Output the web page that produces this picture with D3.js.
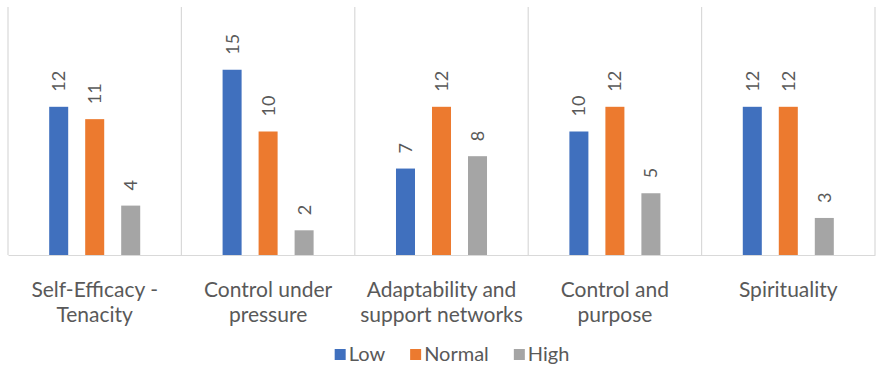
<!DOCTYPE html>
<html>
<head>
<meta charset="utf-8">
<script src="https://cdn.jsdelivr.net/npm/d3@7"></script>
<style>
  html, body { margin: 0; padding: 0; background: #fff; }
  svg { display: block; font-family: Lato, "Open Sans", sans-serif; }
</style>
</head>
<body>
<svg id="chart" width="877" height="367"></svg>
<script>
// Resilience dimensions and counts per level
const categories = [
  ["Self-Efficacy -", "Tenacity"],
  ["Control under", "pressure"],
  ["Adaptability and", "support networks"],
  ["Control and", "purpose"],
  ["Spirituality"]
];
const seriesNames = ["Low", "Normal", "High"];
const lowValues    = [12, 15, 7, 10, 12];
const normalValues = [11, 10, 12, 12, 12];
const highValues   = [4, 2, 8, 5, 3];
const seriesColors = ["#4070BE", "#EC7A2F", "#A5A5A5"];

const seriesValues = [lowValues, normalValues, highValues];
const catKeys = categories.map(c => c.join(" "));

const svg = d3.select("#chart");
const plot = { left: 8, right: 875, top: 8, bottom: 255 };

const x0 = d3.scaleBand().domain(catKeys).range([plot.left, plot.right]).padding(0);
const x1 = d3.scaleBand().domain(seriesNames).range([0, x0.bandwidth()])
  .paddingInner(0.472).paddingOuter(1.144);
const y = d3.scaleLinear().domain([0, 20]).range([plot.bottom, plot.top]);

const gridColor = "#D9D9D9";
const textColor = "#595959";

// vertical separators between categories
const bounds = catKeys.map(k => x0(k)).concat([plot.right]);
svg.append("g").selectAll("line").data(bounds).join("line")
  .attr("x1", d => d).attr("x2", d => d)
  .attr("y1", plot.top - 1).attr("y2", plot.bottom)
  .attr("stroke", gridColor).attr("stroke-width", 1.2);

// category axis
const xAxis = d3.axisBottom(x0).tickSize(0).tickFormat("");
const axisG = svg.append("g").attr("transform", `translate(0,${plot.bottom})`).call(xAxis);
axisG.select(".domain").attr("stroke", gridColor).attr("stroke-width", 1.2);

// bars with rotated value labels
const groups = svg.append("g").selectAll("g").data(catKeys).join("g")
  .attr("transform", k => `translate(${x0(k)},0)`);

groups.each(function(k, ci) {
  const g = d3.select(this);
  seriesNames.forEach((s, si) => {
    const v = seriesValues[si][ci];
    const bx = x1(s), bw = x1.bandwidth();
    g.append("rect")
      .attr("x", bx).attr("width", bw)
      .attr("y", y(v)).attr("height", y(0) - y(v))
      .attr("fill", seriesColors[si]);
    const cx = bx + bw / 2, ty = y(v) - 15;
    g.append("text")
      .attr("transform", `translate(${cx},${ty}) rotate(-90)`)
      .attr("dy", "0.36em")
      .attr("text-anchor", "start")
      .attr("fill", textColor)
      .style("font-size", "18px")
      .text(v);
  });
});

// category labels
categories.forEach((lines, ci) => {
  const cx = x0(catKeys[ci]) + x0.bandwidth() / 2;
  const t = svg.append("text")
    .attr("text-anchor", "middle")
    .attr("fill", textColor)
    .style("font-size", "21px");
  lines.forEach((ln, li) => {
    t.append("tspan").attr("x", cx).attr("y", 297 + li * 25).text(ln);
  });
});

// legend
const legend = svg.append("g");
const legendFont = 20, sw = 11, gapSwatch = 3, gapItem = 25;
let lx = 0;
seriesNames.forEach((s, i) => {
  const item = legend.append("g").attr("transform", `translate(${lx},0)`);
  item.append("rect").attr("x", 0).attr("y", 349).attr("width", sw).attr("height", sw)
    .attr("fill", seriesColors[i]);
  const tx = item.append("text").attr("x", sw + gapSwatch).attr("y", 361)
    .attr("fill", textColor).style("font-size", legendFont + "px").text(s);
  lx += sw + gapSwatch + tx.node().getComputedTextLength() + gapItem;
});
const legendW = lx - gapItem;
legend.attr("transform", `translate(${452 - legendW / 2},0)`);
</script>
</body>
</html>
